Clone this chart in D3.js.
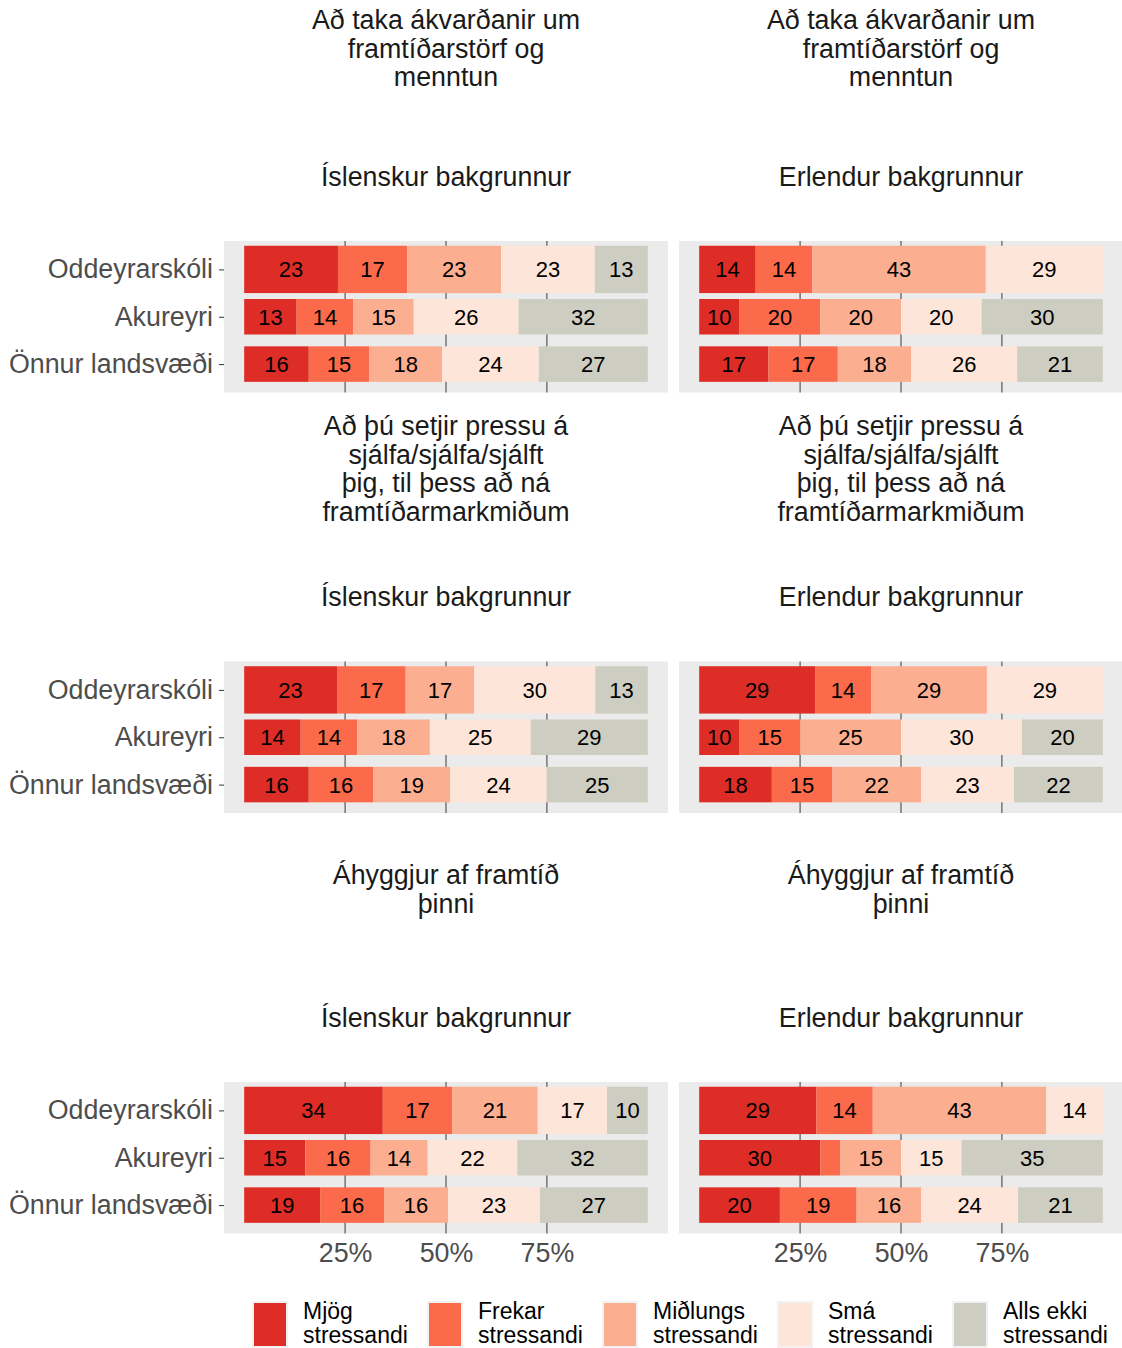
<!DOCTYPE html>
<html>
<head>
<meta charset="utf-8">
<script src="https://cdn.jsdelivr.net/npm/d3@7"></script>
<style>
  body { margin: 0; background: #fff; }
  text { font-family: "Liberation Sans", Arial, sans-serif; }
</style>
</head>
<body>
<div id="chart-area"></div>
<script>

// Gögn
var schools = ["Oddeyrarskóli", "Akureyri", "Önnur landsvæði"];
var levels = ["Mjög stressandi", "Frekar stressandi", "Miðlungs stressandi", "Smá stressandi", "Alls ekki stressandi"];
var backgrounds = ["Íslenskur bakgrunnur", "Erlendur bakgrunnur"];
var questions = [
    "Að taka ákvarðanir um\nframtíðarstörf og\nmenntun",
    "Að þú setjir pressu á\nsjálfa/sjálfa/sjálft\nþig, til þess að ná\nframtíðarmarkmiðum",
    "Áhyggjur af framtíð\nþinni"
];
var tickValues = [0.25, 0.5, 0.75];

// one row per school, values in order of levels
var q1Islenskur = [[23, 17, 23, 23, 13], [13, 14, 15, 26, 32], [16, 15, 18, 24, 27]];
var q1Erlendur  = [[14, 14, 43, 29, 0],  [10, 20, 20, 20, 30], [17, 17, 18, 26, 21]];
var q2Islenskur = [[23, 17, 17, 30, 13], [14, 14, 18, 25, 29], [16, 16, 19, 24, 25]];
var q2Erlendur  = [[29, 14, 29, 29, 0],  [10, 15, 25, 30, 20], [18, 15, 22, 23, 22]];
var q3Islenskur = [[34, 17, 21, 17, 10], [15, 16, 14, 22, 32], [19, 16, 16, 23, 27]];
var q3Erlendur  = [[29, 14, 43, 14, 0],  [30, 5, 15, 15, 35],  [20, 19, 16, 24, 21]];

var panels = [
    [q1Islenskur, q1Erlendur],
    [q2Islenskur, q2Erlendur],
    [q3Islenskur, q3Erlendur]
];

// útlit
var colors = ["#de2d26", "#fb6a4a", "#fcae91", "#fee5d9", "#cdcdc1"];
var width = 1122, height = 1348;
var fontBig = "26.8px";
var rowHeight = 420.5,
    panelTop = 241,
    panelH = 151.5,
    panelW = 444,
    colX = [224, 679];

var color = d3.scaleOrdinal().domain(levels).range(colors);

var svg = d3.select("#chart-area")
    .append("svg")
    .attr("width", width)
    .attr("height", height);

var x = d3.scaleLinear()
    .domain([-0.05, 1.05])
    .range([0, panelW]);

var y = d3.scalePoint()
    .domain(schools)
    .range([0, panelH])
    .padding(0.6);

var step = y.step();
function barHeight(school) {
    return (school == "Oddeyrarskóli" ? 1 : 0.75) * step;
}

var stack = d3.stack()
    .keys(levels)
    .offset(d3.stackOffsetExpand);

panels.forEach(function(row, r) {
    var top = r * rowHeight;

    row.forEach(function(values, c) {
        var cx = colX[c] + panelW / 2;

        // titill
        var lines = questions[r].split("\n");
        var lh = 28.8;
        var first = top + 57.5 - (lines.length - 1) * lh / 2;
        svg.append("text")
            .attr("text-anchor", "middle")
            .attr("font-size", fontBig)
            .attr("fill", "#1a1a1a")
            .selectAll("tspan")
            .data(lines)
            .enter()
            .append("tspan")
            .attr("x", cx)
            .attr("y", function(d, i) { return first + i * lh; })
            .text(function(d) { return d; });

        // strip
        svg.append("text")
            .attr("x", cx)
            .attr("y", top + 185.5)
            .attr("text-anchor", "middle")
            .attr("font-size", fontBig)
            .attr("fill", "#1a1a1a")
            .text(backgrounds[c]);

        var g = svg.append("g")
            .attr("transform", "translate(" + colX[c] + "," + (top + panelTop) + ")");

        g.append("rect")
            .attr("width", panelW)
            .attr("height", panelH)
            .attr("fill", "#ebebeb");

        g.selectAll(".grid")
            .data(tickValues)
            .enter()
            .append("line")
            .attr("x1", function(d) { return x(d); })
            .attr("x2", function(d) { return x(d); })
            .attr("y1", 0)
            .attr("y2", panelH)
            .attr("stroke", "#3a3a3a")
            .attr("stroke-width", 1);

        var rows = values.map(function(v, i) {
            var o = { school: schools[i] };
            levels.forEach(function(l, j) { o[l] = v[j]; });
            return o;
        });
        var series = stack(rows);

        var layer = g.selectAll(".layer")
            .data(series)
            .enter()
            .append("g")
            .attr("fill", function(d) { return color(d.key); });

        layer.selectAll("rect")
            .data(function(d) { return d; })
            .enter()
            .append("rect")
            .attr("x", function(d) { return x(d[0]); })
            .attr("width", function(d) { return x(d[1]) - x(d[0]); })
            .attr("y", function(d) { return y(d.data.school) - barHeight(d.data.school) / 2; })
            .attr("height", function(d) { return barHeight(d.data.school); });

        layer.selectAll("text")
            .data(function(d) {
                return d.map(function(p) { return { p: p, v: p.data[d.key] }; })
                    .filter(function(e) { return e.v >= 8; });
            })
            .enter()
            .append("text")
            .attr("x", function(d) { return x((d.p[0] + d.p[1]) / 2); })
            .attr("y", function(d) { return y(d.p.data.school); })
            .attr("dy", "0.36em")
            .attr("text-anchor", "middle")
            .attr("font-size", "22px")
            .attr("fill", "#000")
            .text(function(d) { return d.v; });

        // y ás aðeins vinstra megin
        if (c == 0) {
            var yAxis = g.append("g")
                .call(d3.axisLeft(y).tickSize(5).tickPadding(6));
            yAxis.select(".domain").remove();
            yAxis.selectAll("line").attr("stroke", "#333");
            yAxis.selectAll("text")
                .attr("font-size", fontBig)
                .attr("font-family", "Liberation Sans, Arial, sans-serif")
                .attr("fill", "#4d4d4d");
        }

        // x ás aðeins neðst
        if (r == panels.length - 1) {
            var xAxis = g.append("g")
                .attr("transform", "translate(0," + panelH + ")")
                .call(d3.axisBottom(x)
                    .tickValues(tickValues)
                    .tickSize(0)
                    .tickPadding(9)
                    .tickFormat(d3.format(".0%")));
            xAxis.select(".domain").remove();
            xAxis.selectAll("text")
                .attr("font-size", fontBig)
                .attr("font-family", "Liberation Sans, Arial, sans-serif")
                .attr("fill", "#4d4d4d");
        }
    });
});

// legend
var legend = svg.append("g")
    .attr("transform", "translate(253,1302)");

var item = legend.selectAll(".item")
    .data(levels)
    .enter()
    .append("g")
    .attr("transform", function(d, i) { return "translate(" + (i * 175) + ",0)"; });

item.append("rect")
    .attr("width", 34)
    .attr("height", 45)
    .attr("fill", function(d) { return color(d); })
    .attr("stroke", "#f2f2f2")
    .attr("stroke-width", 2);

item.append("text")
    .attr("font-size", "23px")
    .attr("fill", "#000")
    .selectAll("tspan")
    .data(function(d) {
        var k = d.lastIndexOf(" ");
        return [d.slice(0, k), d.slice(k + 1)];
    })
    .enter()
    .append("tspan")
    .attr("x", 50)
    .attr("y", function(d, i) { return 17 + i * 24; })
    .text(function(d) { return d; });

</script>
</body>
</html>
